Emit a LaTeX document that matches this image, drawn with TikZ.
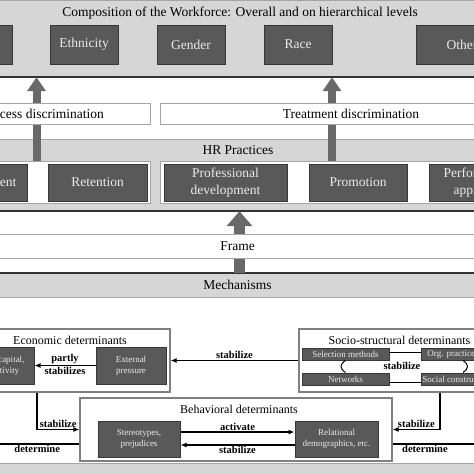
\documentclass[tikz,border=0pt]{standalone}
\usepackage{fontspec}
\setmainfont{Liberation Serif}
\usetikzlibrary{arrows.meta}
\definecolor{bandgray}{RGB}{214,214,214}
\definecolor{boxgray}{RGB}{89,89,89}
\definecolor{boxedge}{RGB}{55,55,55}
\definecolor{arrowgray}{RGB}{105,105,105}
\definecolor{framegray}{RGB}{165,165,165}
\tikzset{
  band/.style={
    rectangle,
    fill=bandgray,
    draw=framegray,
    minimum width=485pt,
    minimum height=#1,
    inner sep=0pt,
    font=\fontsize{13.5}{15}\selectfont
  },
  band/.default=24pt,
  dark box/.style 2 args={
    rectangle,
    fill=boxgray,
    draw=boxedge,
    line width=1pt,
    text=white!92!black,
    minimum width=#1,
    minimum height=#2,
    inner sep=0pt,
    align=center,
    font=\fontsize{13.5}{16.5}\selectfont
  },
  light box/.style 2 args={
    rectangle,
    fill=white,
    draw=framegray,
    line width=0.8pt,
    minimum width=#1,
    minimum height=#2,
    inner sep=0pt
  },
  det box/.style 2 args={
    rectangle,
    fill=white,
    draw=black!50,
    line width=1.3pt,
    minimum width=#1,
    minimum height=#2,
    inner sep=0pt
  },
  heading/.style={font=\fontsize{13.5}{15}\selectfont},
  subheading/.style={font=\fontsize{12}{13}\selectfont},
  small/.style={font=\fontsize{9}{11}\selectfont},
  lab/.style={font=\bfseries\fontsize{10.5}{12}\selectfont, inner sep=1pt},
  dark line/.style={draw=black!80, line width=1.5pt},
  block arrow/.style n args={3}{draw=arrowgray, line width=#1, -{Triangle[width=#2, length=#3]}},
  conn/.style={draw=black, line width=1.3pt, -{Latex[length=6pt, width=5pt]}},
  plain/.style={draw=black, line width=1.3pt},
  cycle line/.style={draw=black, line width=1pt}
}

\begin{document}
\begin{tikzpicture}[x=1pt,y=-1pt]
\useasboundingbox[fill=white] (0,0) rectangle (474,474);

\node[band=77pt] (comp) at (237.5,38.5) {};
\node[band=72pt] (hr) at (237.5,175) {};
\node[band] (mech) at (237.5,285) {Mechanisms};
\node[band=17pt] (foot) at (237.5,471.5) {};
\draw[dark line] (comp.south west) -- (comp.south east);
\draw[dark line] (hr.south west) -- (hr.south east);
\draw[dark line] (mech.north west) -- (mech.north east);

\node[heading] (comptitle) at (240,13) {Composition of the Workforce: Overall and on hierarchical levels};
\node[dark box={68pt}{39pt}] (first) at (-22,44.5) {};
\node[dark box={68pt}{39pt}] (eth) at (84,44.5) {Ethnicity};
\node[dark box={68pt}{39pt}] (gen) at (191,44.5) {Gender};
\node[dark box={68pt}{39pt}] (race) at (298,44.5) {Race};
\node[dark box={92pt}{39pt}] (oth) at (462,44.5) {Other};

\node[heading] (hrtitle) at (238,150) {HR Practices};
\node[light box={230pt}{42pt}] (hrl) at (35,182) {};
\node[light box={400pt}{42pt}] (hrr) at (360,182) {};
\node[dark box={88pt}{37pt}] (rec) at (-17,182.5) {Recruitment};
\node[dark box={99pt}{37pt}] (ret) at (97.5,182.5) {Retention};
\node[dark box={123pt}{37pt}] (dev) at (225.5,182.5) {Professional\\development};
\node[dark box={98pt}{37pt}] (prom) at (358,182.5) {Promotion};
\node[dark box={98pt}{37pt}] (perf) at (478,182.5) {Performance\\appraisal};

\coordinate (up1) at (36.5,0);
\coordinate (up2) at (332,0);
\coordinate (up3) at (239.5,0);
\draw[block arrow={8pt}{18pt}{14pt}] (up1 |- hrl.north) -- (up1 |- comp.south);
\draw[block arrow={8pt}{18pt}{14pt}] (up2 |- hrr.north) -- (up2 |- comp.south);
\draw[block arrow={11pt}{25pt}{15pt}] (up3 |- mech.north) -- (up3 |- hr.south);

\node[light box={212pt}{21pt}, heading] (acc) at (44,113.5) {Access discrimination};
\node[light box={382pt}{21pt}, heading] (trt) at (351,113.5) {Treatment discrimination};
\node[light box={485pt}{24pt}, heading] (frame) at (237.5,246) {Frame};

\node[det box={200pt}{63pt}] (econ) at (70,360.5) {};
\node[subheading] (econtitle) at (70,340) {Economic determinants};
\node[dark box={70pt}{37pt}, small] (ext) at (131,365.5) {External\\pressure};
\node[dark box={74pt}{37pt}, small] (hc) at (-3,365.5) {Human capital,\\productivity};
\draw[conn] (ext) -- (hc) node[lab, midway, above] {partly} node[lab, midway, below] {stabilizes};

\node[det box={211pt}{63pt}] (socio) at (404.5,360.5) {};
\node[subheading] (sociotitle) at (399.5,340) {Socio-structural determinants};
\node[dark box={87pt}{12pt}, small] (sel) at (345.5,354) {Selection methods};
\node[dark box={64pt}{12pt}, small] (org) at (453,354) {Org. practices};
\node[dark box={87pt}{12pt}, small] (net) at (345.5,379) {Networks};
\node[dark box={64pt}{12pt}, small] (soc) at (453,379) {Social constructs};
\draw[cycle line] ([yshift=2pt]sel.east) -- ([yshift=2pt]org.west);
\draw[cycle line] ([yshift=-3pt]net.east) -- ([yshift=-3pt]soc.west);
\draw[cycle line] (sel.south) .. controls +(-6,4) and +(-6,-4) .. (net.north);
\draw[cycle line] ([xshift=10pt]org.south) .. controls +(6,4) and +(6,-4) .. ([xshift=10pt]soc.north);
\node[lab] (cyclab) at (402,366) {stabilize};
\draw[conn] (socio) -- (econ) node[lab, midway, above] {stabilize};

\node[det box={312pt}{63pt}] (behav) at (236,429.5) {};
\node[subheading] (behavtitle) at (239,409) {Behavioral determinants};
\node[dark box={82pt}{36pt}, small] (ster) at (139,439) {Stereotypes,\\prejudices};
\node[dark box={83pt}{36pt}, small] (rel) at (336.5,439) {Relational\\demographics, etc.};
\draw[conn] ([yshift=7pt]ster.east) -- ([yshift=7pt]rel.west) node[lab, midway, above] {activate};
\draw[conn] ([yshift=-6pt]rel.west) -- ([yshift=-6pt]ster.east) node[lab, midway, below] {stabilize};

\coordinate (down1) at (37,0);
\coordinate (down2) at (440,0);
\draw[conn] (down1 |- econ.south) |- (behav.west) node[lab, pos=0.75, above] {stabilize};
\draw[conn] (down2 |- socio.south) |- (behav.east) node[lab, pos=0.75, above] {stabilize};

\coordinate (outl) at (-5,444);
\coordinate (outr) at (480,444);
\draw[plain] ([yshift=-14.5pt]behav.west) -- (outl) node[lab, midway, below] {determine};
\draw[plain] ([yshift=-14.5pt]behav.east) -- (outr) node[lab, pos=0.37, below] {determine};
\end{tikzpicture}
\end{document}
